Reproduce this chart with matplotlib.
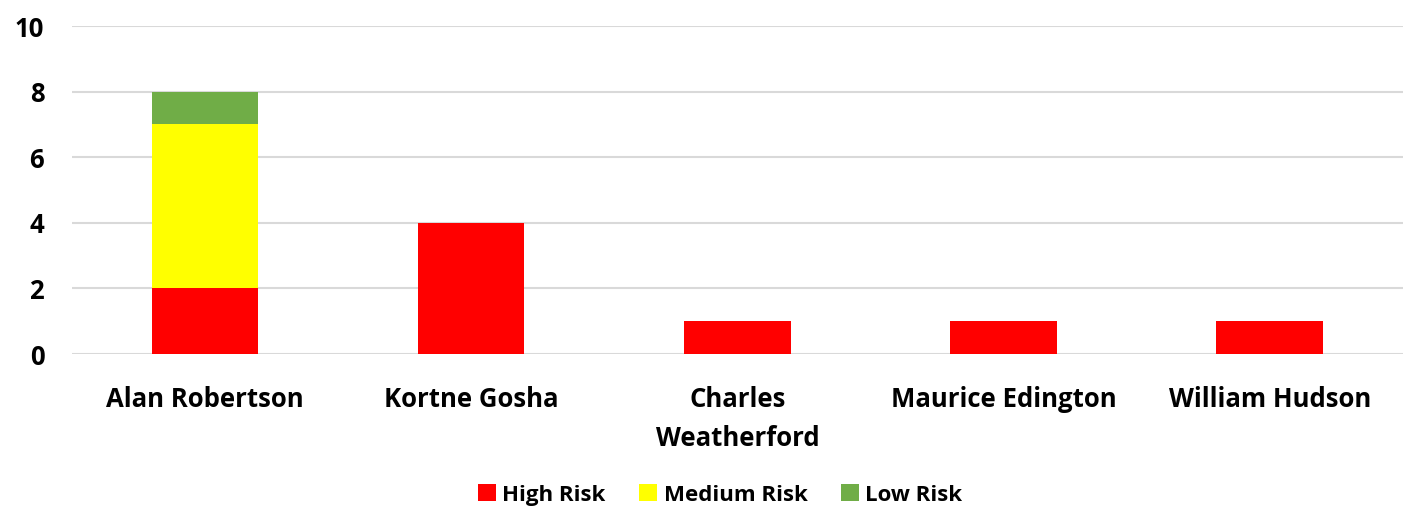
import matplotlib
matplotlib.use("Agg")
import matplotlib.pyplot as plt
import numpy as np

categories = ["Alan Robertson", "Kortne Gosha", "Charles\nWeatherford", "Maurice Edington", "William Hudson"]
high_risk = [2, 4, 1, 1, 1]
medium_risk = [5, 0, 0, 0, 0]
low_risk = [1, 0, 0, 0, 0]
yticks = [0, 2, 4, 6, 8, 10]

plt.rcParams['font.family'] = ['Open Sans', 'DejaVu Sans']
plt.rcParams['font.weight'] = 'bold'

fig = plt.figure(figsize=(14.07, 5.08), dpi=100)
ax = fig.add_axes([0.0512, 0.3031, 0.9458, 0.6457])

x = np.arange(len(categories))
w = 0.4
h = np.array(high_risk)
m = np.array(medium_risk)
l = np.array(low_risk)
ax.bar(x, h, w, color="#FF0000", label="High Risk", zorder=3)
ax.bar(x, m, w, bottom=h, color="#FFFF00", label="Medium Risk", zorder=3)
ax.bar(x, l, w, bottom=h + m, color="#70AD47", label="Low Risk", zorder=3)

ax.set_xlim(-0.5, len(categories) - 0.5)
ax.set_ylim(0, 10)
ax.set_yticks(yticks)
ax.yaxis.grid(True, color="#D9D9D9", linewidth=1.5, zorder=0)
for s in ax.spines.values():
    s.set_visible(False)
ax.tick_params(axis='both', length=0, labelsize=18.5)
ax.tick_params(axis='y', pad=20)
ax.tick_params(axis='x', pad=23)
ax.set_xticks(x)
ax.set_xticklabels(categories, fontweight='bold', linespacing=1.55)
for t in ax.get_yticklabels():
    t.set_fontweight('bold')

leg = ax.legend(loc='center', bbox_to_anchor=(0.487, -0.43), ncol=3, frameon=False,
                handlelength=0.8, handleheight=0.8, handletextpad=0.3,
                columnspacing=1.5, prop={'weight': 'bold', 'size': 16})

fig.savefig("out.png", dpi=100)
